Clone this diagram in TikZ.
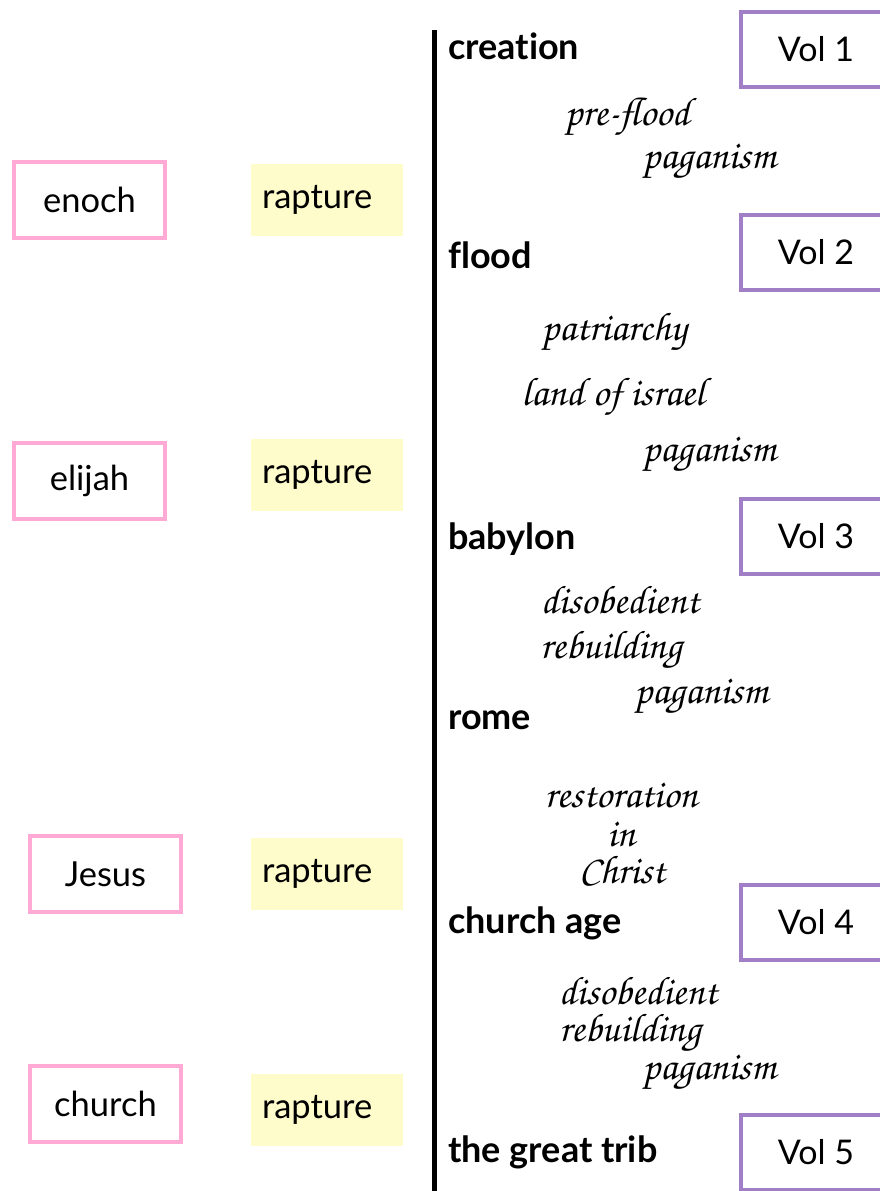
\documentclass[tikz,border=0pt]{standalone}
\usepackage[T1]{fontenc}
\usepackage{fontspec}
\setmainfont{Lato}[Ligatures={NoCommon}]
\definecolor{pinkline}{HTML}{FFAAD4}
\definecolor{yellowfill}{HTML}{FFFCCC}
\definecolor{purpleline}{HTML}{A07FC6}
\newcommand{\scriptfnt}{\fontencoding{T1}\fontfamily{pzc}\fontseries{mb}\fontshape{it}\selectfont}
\tikzset{
  personbox/.style={draw=pinkline, line width=4pt, minimum width=151pt, minimum height=76pt, inner sep=0pt, font=\fontsize{34.5}{38}\selectfont},
  rapturebox/.style={fill=yellowfill, text width=130pt, align=left, inner xsep=11pt, inner ysep=0pt, minimum height=72pt, font=\fontsize{34.5}{38}\selectfont},
  volbox/.style={draw=purpleline, line width=4pt, minimum width=170pt, minimum height=75pt, inner sep=0pt},
  voltext/.style={font=\fontsize{34}{38}\selectfont, inner sep=0pt},
  eralabel/.style={anchor=west, font=\fontsize{36}{40}\selectfont\bfseries, inner sep=0pt},
  cursive/.style={font=\fontsize{40}{44}\scriptfnt, inner sep=0pt}
}
\begin{document}
\begin{tikzpicture}[x=1pt,y=-1pt]
\useasboundingbox (0,0) rectangle (880,1191);
% timeline
\coordinate (top) at (434.5,30);
\coordinate (bottom) at (434.5,1195);
\draw[line width=4.5pt] (top) -- (bottom);
% people
\node[personbox] (enoch) at (89.5,200) {enoch};
\node[personbox] (elijah) at (89.5,481) {elijah};
\node[personbox] (jesus) at (105.5,874) {Jesus};
\node[personbox] (church) at (105.5,1104) {church};
% raptures
\node[rapturebox] (r1) at (327,200) {\raisebox{-3pt}{rapture}};
\node[rapturebox] (r2) at (327,475) {\raisebox{-3pt}{rapture}};
\node[rapturebox] (r3) at (327,874) {\raisebox{-3pt}{rapture}};
\node[rapturebox] (r4) at (327,1110) {\raisebox{-3pt}{rapture}};
% volumes
\node[volbox] (v1) at (826,49.5) {};
\node[voltext] (v1t) at (816,49.5) {Vol 1};
\node[volbox] (v2) at (826,252.5) {};
\node[voltext] (v2t) at (816,252.5) {Vol 2};
\node[volbox] (v3) at (826,536) {};
\node[voltext] (v3t) at (816,536) {Vol 3};
\node[volbox] (v4) at (826,922.5) {};
\node[voltext] (v4t) at (816,922.5) {Vol 4};
\node[volbox] (v5) at (826,1152) {};
\node[voltext] (v5t) at (816,1152) {Vol 5};
% eras
\node[eralabel] (creation) at (448,46) {creation};
\node[eralabel] (flood) at (448,255) {flood};
\node[eralabel] (babylon) at (448,539) {babylon};
\node[eralabel] (rome) at (448,720) {rome};
\node[eralabel] (churchage) at (448,923) {church age};
\node[eralabel] (trib) at (448,1152) {the great trib};
% cursive notes
\node[cursive] (c1) at (627,117) {pre-flood};
\node[cursive] (c2) at (709,162) {paganism};
\node[cursive] (c3) at (614,332) {patriarchy};
\node[cursive] (c4) at (613,397) {land of israel};
\node[cursive] (c5) at (709,455) {paganism};
\node[cursive] (c6) at (620,600) {disobedient};
\node[cursive] (c7) at (611,650) {rebuilding};
\node[cursive] (c8) at (701,697) {paganism};
\node[cursive] (c9) at (621,795) {restoration};
\node[cursive] (c10) at (621,834) {in};
\node[cursive] (c11) at (622,870) {Christ};
\node[cursive] (c12) at (638,991) {disobedient};
\node[cursive] (c13) at (630,1033) {rebuilding};
\node[cursive] (c14) at (709,1073) {paganism};
\end{tikzpicture}
\end{document}
